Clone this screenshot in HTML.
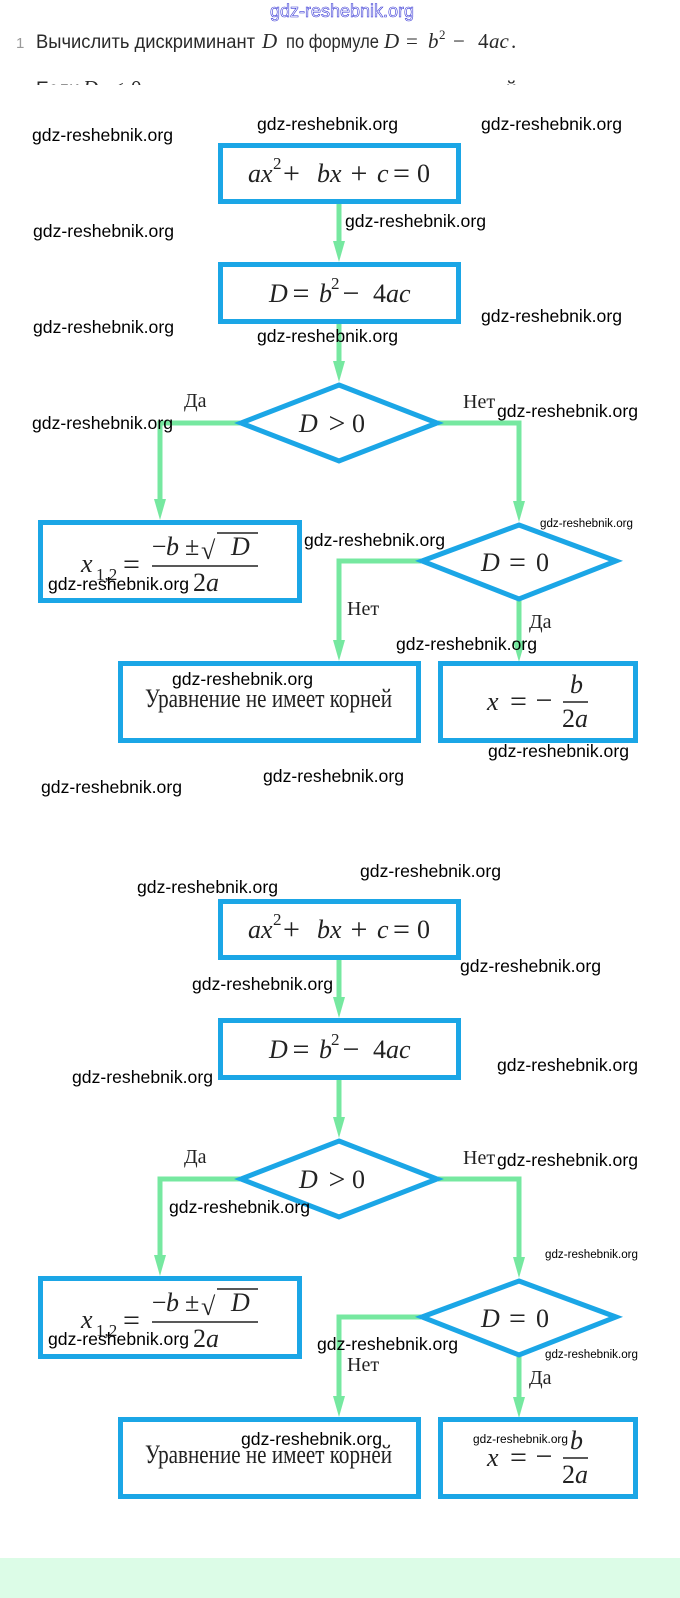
<!DOCTYPE html>
<html>
<head>
<meta charset="utf-8">
<style>
  html,body{margin:0;padding:0;background:#fff;}
  body{width:680px;height:1598px;overflow:hidden;}
  svg{display:block;}
  .wm{font-family:"Liberation Sans",Arial,sans-serif;font-size:17.5px;fill:#000;}
  .wms{font-family:"Liberation Sans",Arial,sans-serif;font-size:11.5px;fill:#000;}
  .m{font-family:"Liberation Serif","DejaVu Serif",serif;font-size:26px;fill:#222;}
  .op{font-family:"Liberation Serif","DejaVu Serif",serif;font-size:30px;fill:#222;}
  .mi{font-family:"Liberation Serif","DejaVu Serif",serif;font-size:26px;font-style:italic;fill:#222;}
  .sup{font-family:"Liberation Serif","DejaVu Serif",serif;font-size:17px;fill:#222;}
  .lbl{font-family:"Liberation Serif","DejaVu Serif",serif;font-size:20px;fill:#222;}
  .hd{font-family:"Liberation Sans",Arial,sans-serif;font-size:19px;fill:#2a2a2a;}
  .hdm{font-family:"Liberation Serif",serif;font-size:21px;font-style:italic;fill:#2a2a2a;}
  .hdr{font-family:"Liberation Serif",serif;font-size:21px;fill:#2a2a2a;}
</style>
</head>
<body>
<svg width="680" height="1598" viewBox="0 0 680 1598" xmlns="http://www.w3.org/2000/svg">
  <defs>
    <clipPath id="cut"><rect x="0" y="70" width="680" height="15"/></clipPath>
    <g id="diag">
      <!-- connectors -->
      <g stroke="#76e8a0" stroke-width="5" fill="none">
        <line x1="339" y1="204" x2="339" y2="244"/>
        <line x1="339" y1="324" x2="339" y2="364"/>
        <polyline points="240,423 160,423 160,502"/>
        <polyline points="438,423 519,423 519,504"/>
        <polyline points="421,561 339,561 339,643"/>
        <line x1="519" y1="598" x2="519" y2="644"/>
      </g>
      <g fill="#76e8a0">
        <polygon points="333,241 345,241 339,262"/>
        <polygon points="333,361 345,361 339,382"/>
        <polygon points="154,499 166,499 160,520"/>
        <polygon points="513,501 525,501 519,522"/>
        <polygon points="333,640 345,640 339,661"/>
        <polygon points="513,641 525,641 519,662"/>
      </g>
      <!-- boxes -->
      <g stroke="#1ba6e6" stroke-width="5" fill="#fff">
        <rect x="220.5" y="145.5" width="238" height="56"/>
        <rect x="220.5" y="264.5" width="238" height="57"/>
        <rect x="40.5" y="522.5" width="259" height="78"/>
        <rect x="120.5" y="663.5" width="298" height="77"/>
        <rect x="440.5" y="663.5" width="195" height="77"/>
        <polygon points="339,385 437,423 339,461 241,423"/>
        <polygon points="519,525 616,561 519,599 422,561"/>
      </g>
      <!-- box1 math -->
      <text class="mi" x="248" y="182">ax</text>
      <text class="sup" x="273" y="169">2</text>
      <text class="op" x="283" y="183">+</text>
      <text class="mi" x="317" y="182">bx</text>
      <text class="op" x="350.5" y="183">+</text>
      <text class="mi" x="377" y="182">c</text>
      <text class="op" x="393" y="183">=</text>
      <text class="m" x="417" y="182">0</text>
      <!-- box2 math -->
      <text class="mi" x="269" y="302">D</text>
      <text class="op" x="292.5" y="303">=</text>
      <text class="mi" x="319" y="302">b</text>
      <text class="sup" x="331" y="289">2</text>
      <text class="op" x="342.5" y="303">−</text>
      <text class="m" x="373" y="302">4</text>
      <text class="mi" x="386" y="302">ac</text>
      <!-- diamond texts -->
      <text class="mi" x="299" y="432">D</text>
      <text class="op" x="328.5" y="433">&gt;</text>
      <text class="m" x="352" y="432">0</text>
      <text class="mi" x="481" y="571">D</text>
      <text class="op" x="509" y="572">=</text>
      <text class="m" x="536" y="571">0</text>
      <!-- box3 math -->
      <text class="mi" x="81" y="572">x</text>
      <text class="sup" x="96" y="580">1,2</text>
      <text class="op" x="123" y="574">=</text>
      <text class="m" x="151.7" y="555">−</text>
      <text class="mi" x="166" y="555">b</text>
      <text class="m" x="185" y="555">±</text>
      <text class="m" x="201" y="559" font-size="34">√</text>
      <line x1="217" y1="533" x2="258" y2="533" stroke="#222" stroke-width="1.4"/>
      <text class="mi" x="231" y="555" font-size="27">D</text>
      <line x1="152" y1="566" x2="258" y2="566" stroke="#222" stroke-width="1.4"/>
      <text class="m" x="193" y="591">2</text>
      <text class="mi" x="206" y="591">a</text>
      <!-- box4 text -->
      <text class="m" x="145" y="707" font-size="19" fill="#333" textLength="247" lengthAdjust="spacingAndGlyphs">Уравнение не имеет корней</text>
      <!-- box5 math -->
      <text class="mi" x="487" y="710">x</text>
      <text class="op" x="510" y="711">=</text>
      <text class="op" x="535.5" y="710">−</text>
      <text class="mi" x="570" y="693">b</text>
      <line x1="563" y1="702" x2="588" y2="702" stroke="#222" stroke-width="1.4"/>
      <text class="m" x="562" y="727">2</text>
      <text class="mi" x="575" y="727">a</text>
      <!-- labels -->
      <text class="lbl" x="184" y="407">Да</text>
      <text class="lbl" x="463" y="408">Нет</text>
      <text class="lbl" x="347" y="615">Нет</text>
      <text class="lbl" x="529" y="628">Да</text>
    </g>
  </defs>

  <!-- header -->
  <text x="270" y="17" font-family="Liberation Sans, Arial, sans-serif" font-size="18" fill="#ffffff" stroke="#3a3ad6" stroke-width="0.6" textLength="144" lengthAdjust="spacingAndGlyphs">gdz-reshebnik.org</text>
  <text x="16" y="48" font-family="Liberation Sans, Arial, sans-serif" font-size="15" fill="#9a9a9a">1</text>
  <text class="hd" x="36" y="48" textLength="219" lengthAdjust="spacingAndGlyphs">Вычислить дискриминант</text>
  <text class="hdm" x="262" y="48">D</text>
  <text class="hd" x="286" y="48" textLength="93" lengthAdjust="spacingAndGlyphs">по формуле</text>
  <text class="hdm" x="384" y="48">D</text>
  <text class="hdr" x="406" y="48">=</text>
  <text class="hdm" x="428" y="48">b</text>
  <text x="439" y="39" font-family="Liberation Serif, serif" font-size="13" fill="#2a2a2a">2</text>
  <text class="hdr" x="453" y="48">−</text>
  <text class="hdr" x="478" y="48">4</text>
  <text class="hdm" x="489" y="48" font-size="22">ac</text>
  <text class="hdr" x="511" y="48">.</text>
  <!-- clipped second line -->
  <g clip-path="url(#cut)">
    <text x="16" y="95" font-family="Liberation Sans, Arial, sans-serif" font-size="15" fill="#9a9a9a">2</text>
    <text class="hd" x="36" y="95" font-size="17">Если</text>
    <text class="hdm" x="83" y="95">D</text>
    <text class="hdr" x="112" y="95">&lt;</text>
    <text class="hdr" x="131" y="95">0</text>
    <text class="hd" x="506" y="95" font-size="17">й</text>
  </g>

  <!-- diagrams -->
  <use href="#diag"/>
  <use href="#diag" transform="translate(0,756)"/>

  <!-- watermarks diagram 1 -->
  <g class="wm">
    <text x="32" y="141" textLength="141" lengthAdjust="spacingAndGlyphs">gdz-reshebnik.org</text>
    <text x="257" y="130" textLength="141" lengthAdjust="spacingAndGlyphs">gdz-reshebnik.org</text>
    <text x="481" y="130" textLength="141" lengthAdjust="spacingAndGlyphs">gdz-reshebnik.org</text>
    <text x="33" y="237" textLength="141" lengthAdjust="spacingAndGlyphs">gdz-reshebnik.org</text>
    <text x="345" y="227" textLength="141" lengthAdjust="spacingAndGlyphs">gdz-reshebnik.org</text>
    <text x="33" y="333" textLength="141" lengthAdjust="spacingAndGlyphs">gdz-reshebnik.org</text>
    <text x="481" y="322" textLength="141" lengthAdjust="spacingAndGlyphs">gdz-reshebnik.org</text>
    <text x="257" y="342" textLength="141" lengthAdjust="spacingAndGlyphs">gdz-reshebnik.org</text>
    <text x="32" y="429" textLength="141" lengthAdjust="spacingAndGlyphs">gdz-reshebnik.org</text>
    <text x="497" y="417" textLength="141" lengthAdjust="spacingAndGlyphs">gdz-reshebnik.org</text>
    <text x="304" y="546" textLength="141" lengthAdjust="spacingAndGlyphs">gdz-reshebnik.org</text>
    <text x="48" y="590" textLength="141" lengthAdjust="spacingAndGlyphs">gdz-reshebnik.org</text>
    <text x="396" y="650" textLength="141" lengthAdjust="spacingAndGlyphs">gdz-reshebnik.org</text>
    <text x="172" y="685" textLength="141" lengthAdjust="spacingAndGlyphs">gdz-reshebnik.org</text>
    <text x="488" y="757" textLength="141" lengthAdjust="spacingAndGlyphs">gdz-reshebnik.org</text>
    <text x="263" y="782" textLength="141" lengthAdjust="spacingAndGlyphs">gdz-reshebnik.org</text>
    <text x="41" y="793" textLength="141" lengthAdjust="spacingAndGlyphs">gdz-reshebnik.org</text>
  </g>
  <text class="wms" x="540" y="527" textLength="93" lengthAdjust="spacingAndGlyphs">gdz-reshebnik.org</text>

  <!-- watermarks diagram 2 -->
  <g class="wm">
    <text x="360" y="877" textLength="141" lengthAdjust="spacingAndGlyphs">gdz-reshebnik.org</text>
    <text x="137" y="893" textLength="141" lengthAdjust="spacingAndGlyphs">gdz-reshebnik.org</text>
    <text x="460" y="972" textLength="141" lengthAdjust="spacingAndGlyphs">gdz-reshebnik.org</text>
    <text x="192" y="990" textLength="141" lengthAdjust="spacingAndGlyphs">gdz-reshebnik.org</text>
    <text x="72" y="1083" textLength="141" lengthAdjust="spacingAndGlyphs">gdz-reshebnik.org</text>
    <text x="497" y="1071" textLength="141" lengthAdjust="spacingAndGlyphs">gdz-reshebnik.org</text>
    <text x="497" y="1166" textLength="141" lengthAdjust="spacingAndGlyphs">gdz-reshebnik.org</text>
    <text x="169" y="1213" textLength="141" lengthAdjust="spacingAndGlyphs">gdz-reshebnik.org</text>
    <text x="48" y="1345" textLength="141" lengthAdjust="spacingAndGlyphs">gdz-reshebnik.org</text>
    <text x="317" y="1350" textLength="141" lengthAdjust="spacingAndGlyphs">gdz-reshebnik.org</text>
    <text x="241" y="1445" textLength="141" lengthAdjust="spacingAndGlyphs">gdz-reshebnik.org</text>
  </g>
  <text class="wms" x="545" y="1258" textLength="93" lengthAdjust="spacingAndGlyphs">gdz-reshebnik.org</text>
  <text class="wms" x="545" y="1358" textLength="93" lengthAdjust="spacingAndGlyphs">gdz-reshebnik.org</text>
  <text class="wms" x="473" y="1443" textLength="95" lengthAdjust="spacingAndGlyphs">gdz-reshebnik.org</text>

  <!-- bottom band -->
  <rect x="0" y="1558" width="680" height="40" fill="#dcfce7"/>
</svg>
</body>
</html>
